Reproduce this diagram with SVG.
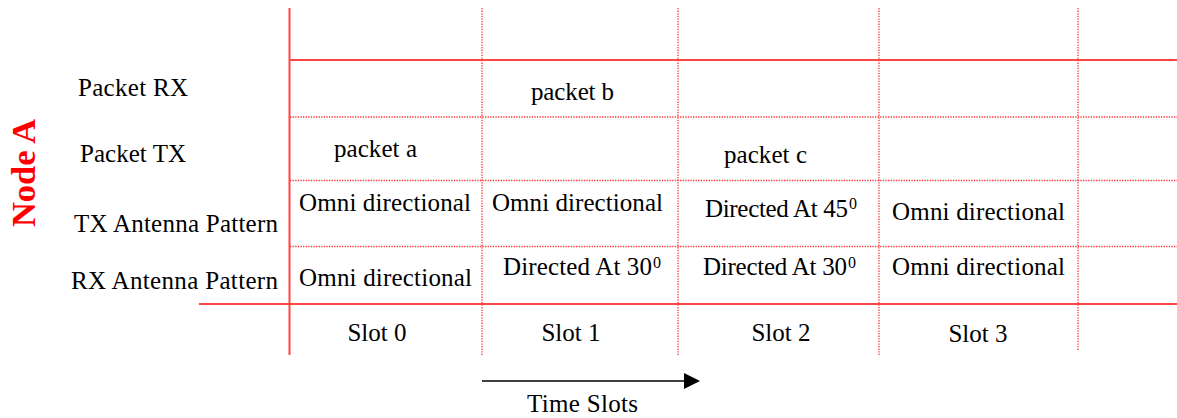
<svg xmlns="http://www.w3.org/2000/svg" width="1177" height="418" viewBox="0 0 1177 418">
<style>
.t{font-family:"Liberation Serif","Times New Roman",serif;font-size:25px;fill:#000}
.c{text-anchor:middle}
.sup{font-family:"Liberation Serif","Times New Roman",serif;font-size:16px;fill:#000}
.solid{stroke:#ff4444;stroke-width:2;fill:none}
.dot{stroke:#ff3333;stroke-width:1.3;stroke-dasharray:1.3 1.3;fill:none}
.node{font-family:"Liberation Serif","Times New Roman",serif;font-size:33px;font-weight:bold;fill:#ff0000}
</style>
<defs>
<marker id="ah" markerWidth="16" markerHeight="16" refX="0" refY="8" orient="auto" markerUnits="userSpaceOnUse">
<polygon points="0,0 16,8 0,16" fill="#000"/>
</marker>
</defs>
<rect width="1177" height="418" fill="#fff"/>
<g id="grid">
<line class="dot" x1="482" y1="8" x2="482" y2="355"/>
<line class="dot" x1="678" y1="8" x2="678" y2="355"/>
<line class="dot" x1="879" y1="8" x2="879" y2="355"/>
<line class="dot" x1="1078" y1="8" x2="1078" y2="350"/>
<line class="dot" x1="290" y1="117" x2="1177" y2="117"/>
<line class="dot" x1="290" y1="180.5" x2="1177" y2="180.5"/>
<line class="dot" x1="290" y1="246.5" x2="1177" y2="246.5"/>
<line class="solid" x1="289.5" y1="8" x2="289.5" y2="355"/>
<line class="solid" x1="289" y1="60" x2="1177" y2="60"/>
<line class="solid" x1="199" y1="304" x2="1177" y2="304"/>
</g>
<g id="node-a"><text class="node" transform="translate(35,227) rotate(-90)" textLength="108" lengthAdjust="spacingAndGlyphs">Node A</text></g>
<g id="row-labels">
<text class="t" x="78" y="96" textLength="110">Packet RX</text>
<text class="t" x="80" y="162" textLength="106">Packet TX</text>
<text class="t" x="74" y="232" textLength="204">TX Antenna Pattern</text>
<text class="t" x="71" y="289" textLength="207">RX Antenna Pattern</text>
</g>
<g id="cells">
<text class="t" x="531" y="100" textLength="83">packet b</text>
<text class="t" x="334" y="157" textLength="83">packet a</text>
<text class="t" x="724" y="163" textLength="83">packet c</text>
<text class="t" x="299" y="211" textLength="172">Omni directional</text>
<text class="t" x="492" y="211" textLength="171">Omni directional</text>
<text class="t" x="705" y="217" textLength="143">Directed At 45</text>
<text class="sup" x="849" y="209">0</text>
<text class="t" x="892" y="220" textLength="173">Omni directional</text>
<text class="t" x="299" y="286" textLength="173">Omni directional</text>
<text class="t" x="503" y="275" textLength="149">Directed At 30</text>
<text class="sup" x="653" y="268">0</text>
<text class="t" x="703" y="275" textLength="144">Directed At 30</text>
<text class="sup" x="848" y="268">0</text>
<text class="t" x="892" y="275" textLength="173">Omni directional</text>
</g>
<g id="slots">
<text class="t c" x="377" y="341">Slot 0</text>
<text class="t c" x="571" y="341">Slot 1</text>
<text class="t c" x="781" y="341">Slot 2</text>
<text class="t c" x="978" y="342">Slot 3</text>
</g>
<g id="connectors">
<line x1="482" y1="381" x2="684" y2="381" stroke="#000" stroke-width="1.5" marker-end="url(#ah)"/>
</g>
<g id="time-label"><text class="t" x="527" y="412" textLength="111">Time Slots</text></g>
</svg>
